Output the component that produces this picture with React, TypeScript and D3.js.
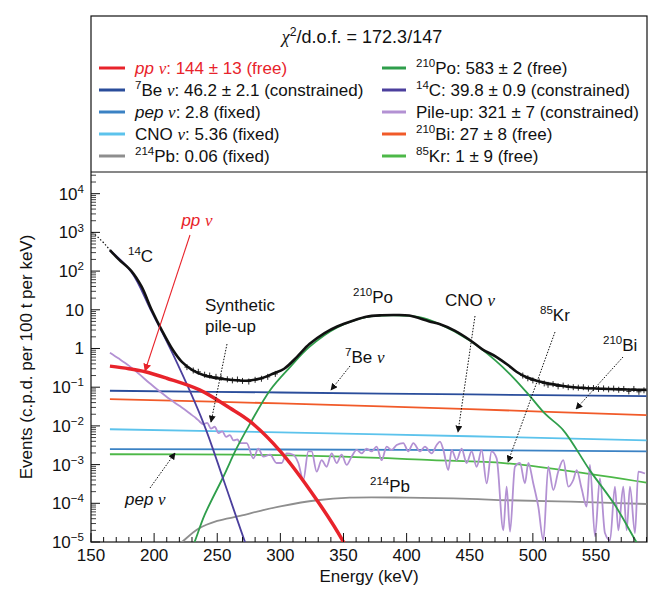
import React from "react";
import * as d3 from "d3";

// ---------------- DATA ----------------
const xTicks = [150, 200, 250, 300, 350, 400, 450, 500, 550];
const yTickExps = [-5, -4, -3, -2, -1, 0, 1, 2, 3, 4];

const legendTitle = "χ^{2}/d.o.f. = 172.3/147";
const legendLeft = [
  { key: "pp", label: "_{pp} ν: 144 ± 13 (free)", color: "#e8232b" },
  { key: "be7", label: "^{7}Be ν: 46.2 ± 2.1 (constrained)", color: "#2a4d9b" },
  { key: "pep", label: "_{pep} ν: 2.8 (fixed)", color: "#3b82c4" },
  { key: "cno", label: "CNO ν: 5.36 (fixed)", color: "#5cc3ec" },
  { key: "pb214", label: "^{214}Pb: 0.06 (fixed)", color: "#8e8e8e" },
];
const legendRight = [
  { key: "po210", label: "^{210}Po: 583 ± 2 (free)", color: "#2f9e4b" },
  { key: "c14", label: "^{14}C: 39.8 ± 0.9 (constrained)", color: "#4b3f9d" },
  { key: "pileup", label: "Pile-up: 321 ± 7 (constrained)", color: "#b391d3" },
  { key: "bi210", label: "^{210}Bi: 27 ± 8 (free)", color: "#f15a29" },
  { key: "kr85", label: "^{85}Kr: 1 ± 9 (free)", color: "#4db848" },
];

// total fit (black)
const totalE = [165, 172, 182, 190, 198, 206, 215, 222, 230, 240, 250, 260, 273, 285, 295, 303, 313, 323, 335, 345, 358, 368, 380, 391, 402, 418, 426, 438, 450, 460, 471, 480, 487, 495, 503, 515, 524, 540, 560, 575, 590];
const totalV = [350, 200, 100, 40, 10, 3, 0.9, 0.45, 0.28, 0.2, 0.17, 0.155, 0.147, 0.17, 0.23, 0.3, 0.6, 1.3, 2.5, 3.7, 5.3, 6.6, 7.2, 7.35, 7.1, 5.0, 4.3, 2.9, 1.66, 0.95, 0.61, 0.38, 0.25, 0.18, 0.147, 0.12, 0.107, 0.095, 0.09, 0.087, 0.085];
// dotted low-energy part
const lowE = [151, 155, 160, 165];
const lowV = [1000, 780, 540, 350];
// data points (crosses)
const dataE = [226, 231, 235, 240, 244, 249, 253, 258, 262, 266, 270, 275, 280, 285, 290, 296, 492, 496, 500, 505, 509, 512, 516, 520, 524, 528, 532, 536, 540, 544, 548, 552, 556, 560, 564, 568, 572, 576, 580, 584, 588];
const dataV = [0.33, 0.27, 0.25, 0.21, 0.2, 0.185, 0.175, 0.16, 0.15, 0.158, 0.145, 0.14, 0.155, 0.165, 0.185, 0.22, 0.2, 0.17, 0.15, 0.14, 0.125, 0.115, 0.12, 0.105, 0.11, 0.1, 0.1, 0.097, 0.1, 0.092, 0.095, 0.09, 0.093, 0.088, 0.092, 0.086, 0.09, 0.078, 0.09, 0.076, 0.083];

const ppE = [165, 180, 193, 210, 236, 260, 276, 300, 329, 350, 356];
const ppV = [0.35, 0.3, 0.25, 0.17, 0.085, 0.029, 0.013, 0.0022, 0.00012, 1e-5, 4e-6];

const c14E = [165, 182, 198, 215, 239, 255, 272, 278];
const c14V = [340, 95, 9, 0.7, 0.012, 4e-4, 1e-5, 3e-6];

const be7E = [165, 300, 450, 590];
const be7V = [0.081, 0.073, 0.065, 0.059];

const bi210E = [165, 300, 450, 590];
const bi210V = [0.049, 0.038, 0.027, 0.019];

const cnoE = [165, 300, 450, 590];
const cnoV = [0.0082, 0.0068, 0.0054, 0.0042];

const pepE = [165, 400, 590];
const pepV = [0.0025, 0.0024, 0.0022];

const kr85E = [165, 268, 350, 420, 479, 590];
const kr85V = [0.00185, 0.0018, 0.0016, 0.0013, 0.00108, 0.00034];

const pb214E = [218, 222, 235, 250, 268, 285, 301, 329, 355, 400, 450, 479, 530, 590];
const pb214V = [8e-6, 1e-5, 2.2e-5, 3.5e-5, 4.7e-5, 6.5e-5, 8.5e-5, 1.2e-4, 1.4e-4, 1.4e-4, 1.3e-4, 1.2e-4, 1.1e-4, 9.6e-5];

const po210E = [228, 232, 240, 255, 265, 275, 292, 308, 323, 345, 368, 390, 410, 426, 450, 470, 485, 498, 510, 524, 545, 565, 582, 588];
const po210V = [5e-6, 1e-5, 5e-5, 5e-4, 0.0025, 0.01, 0.085, 0.34, 1.1, 3.5, 6.5, 7.2, 6.5, 4.3, 1.6, 0.5, 0.17, 0.057, 0.02, 0.0078, 7.2e-4, 9e-5, 1e-5, 5e-6];

const pileE = [165, 172, 180, 188, 196, 204, 212, 220, 226, 230, 233, 236, 239, 242, 245, 248, 251, 254, 257, 260, 263, 266,
  268.0, 273.3, 278.6, 282.5, 286.5, 291.8, 297.0, 301.0, 305.0, 310.2, 314.2, 318.2, 322.1, 324.8, 328.7, 332.7, 336.6, 340.6, 344.6, 348.5, 352.5, 356.4, 360.4, 364.4, 368.3, 372.3, 376.2, 380.2, 384.2, 388.1, 392.1, 397.4, 401.3, 405.3, 410.6, 414.5, 419.8, 423.8, 426.4, 429.1, 433.0, 435.7, 439.6, 443.6, 447.5, 451.5, 455.5, 459.4, 463.4, 467.3, 471.3, 476.6, 479.2, 481.9, 485.8, 489.8, 493.7, 496.4, 500.3, 504.3, 508.3, 512.2, 516.2, 520.1, 524.1, 528.1, 532.0, 534.7, 538.6, 542.6, 545.2, 549.2, 553.1, 557.1, 561.1, 565.0, 567.7, 571.6, 574.3, 576.9, 580.9, 583.5, 588.8];
const pileV = [0.78, 0.55, 0.36, 0.22, 0.13, 0.08, 0.05, 0.033, 0.024, 0.019, 0.016, 0.013, 0.011, 0.012, 0.0085, 0.0095, 0.0065, 0.0072, 0.0052, 0.0058, 0.0042, 0.0045,
  0.0036, 0.0036, 0.00145, 0.0026, 0.0016, 0.0018, 0.0011, 0.0011, 0.00195, 0.0018, 0.0011, 0.0004, 0.0022, 0.0022, 0.00066, 0.0013, 0.00088, 0.00195, 0.0011, 0.0018, 0.00098, 0.0016, 0.0024, 0.00195, 0.0026, 0.0022, 0.0029, 0.0013, 0.0029, 0.0024, 0.0032, 0.0036, 0.0022, 0.0036, 0.0022, 0.0029, 0.00195, 0.0032, 0.0039, 0.0024, 0.00072, 0.0024, 0.0013, 0.0026, 0.0011, 0.0022, 0.00088, 0.0024, 0.00033, 0.0022, 0.00145, 2e-5, 0.00027, 1.85e-5, 0.00088, 0.0011, 0.00033, 0.0011, 0.00033, 8.2e-5, 1.1e-5, 0.00088, 0.00022, 0.00066, 0.0013, 0.00027, 0.0004, 0.00072, 0.00024, 8.2e-5, 0.00098, 1.4e-5, 0.00044, 1.7e-5, 1.1e-5, 0.00027, 2e-5, 0.00027, 2e-5, 0.00027, 1.7e-5, 0.00066, 0.00059];

// ---------------- LAYOUT ----------------
const W = 671, H = 600;
const L = 91, R = 647, T = 172, B = 542, BOX_TOP = 16;
const FONT = "'Liberation Sans', Arial, Helvetica, sans-serif";
const SERIF = "'Liberation Serif', 'DejaVu Serif', serif";

type Seg = { t: string; sup?: boolean; it?: boolean; serif?: boolean };
function parse(s: string): Seg[] {
  const segs: Seg[] = [];
  let buf = "";
  let i = 0;
  const flush = () => { if (buf) { segs.push({ t: buf }); buf = ""; } };
  while (i < s.length) {
    if (s.startsWith("^{", i)) { flush(); const j = s.indexOf("}", i); segs.push({ t: s.slice(i + 2, j), sup: true }); i = j + 1; }
    else if (s.startsWith("_{", i)) { flush(); const j = s.indexOf("}", i); segs.push({ t: s.slice(i + 2, j), it: true }); i = j + 1; }
    else if (s[i] === "ν" || s[i] === "χ") { flush(); segs.push({ t: s[i], serif: true }); i++; }
    else { buf += s[i]; i++; }
  }
  flush();
  return segs;
}

function Rich({ x, y, s, size, fill = "#111", anchor = "start" }: any) {
  const segs = parse(s);
  let shift = 0;
  return (
    <text x={x} y={y} fontSize={size} fill={fill} textAnchor={anchor} fontFamily={FONT} style={{ whiteSpace: "pre" }}>
      {segs.map((g, k) => {
        const target = g.sup ? -size * 0.4 : 0;
        const dy = target - shift;
        shift = target;
        return (
          <tspan key={k} dy={dy !== 0 ? dy : undefined}
            fontSize={g.sup ? size * 0.68 : undefined}
            fontStyle={g.it || g.serif ? "italic" : undefined}
            fontFamily={g.serif ? SERIF : undefined}>
            {g.t}
          </tspan>
        );
      })}
    </text>
  );
}

export default function App() {
  const x = d3.scaleLinear().domain([150, 590.4]).range([L, R]);
  const y = d3.scaleLog().domain([1e-5, Math.pow(10, 4.56)]).range([B, T]);

  const smooth = d3.curveCatmullRom.alpha(0.5);
  const mk = (E: number[], V: number[], curve: any = smooth) =>
    d3.line<number>().x((_, i) => x(E[i])).y((_, i) => y(V[i])).curve(curve)(E) || "";

  const colorOf = (k: string) => [...legendLeft, ...legendRight].find((d) => d.key === k)!.color;

  const series = [
    { k: "pb214", E: pb214E, V: pb214V, w: 1.8, c: smooth },
    { k: "pep", E: pepE, V: pepV, w: 1.8, c: smooth },
    { k: "kr85", E: kr85E, V: kr85V, w: 1.8, c: smooth },
    { k: "cno", E: cnoE, V: cnoV, w: 1.8, c: smooth },
    { k: "bi210", E: bi210E, V: bi210V, w: 1.8, c: smooth },
    { k: "be7", E: be7E, V: be7V, w: 1.8, c: smooth },
    { k: "pileup", E: pileE, V: pileV, w: 1.8, c: d3.curveMonotoneX },
    { k: "po210", E: po210E, V: po210V, w: 1.8, c: smooth },
    { k: "c14", E: c14E, V: c14V, w: 1.8, c: smooth },
    { k: "pp", E: ppE, V: ppV, w: 3.5, c: smooth },
  ];

  const minorX = d3.range(150, 591, 10).filter((v) => v % 50 !== 0);
  const minorY: number[] = [];
  for (let e = -5; e <= 4; e++) for (let m = 2; m <= 9; m++) { const v = m * Math.pow(10, e); if (v <= Math.pow(10, 4.56)) minorY.push(v); }

  const yLabel = (e: number) => (e === 0 ? "1" : e === 1 ? "10" : `10^{${e < 0 ? "−" + -e : e}}`);

  const arrows = [
    { x1: 227, y1: 344, x2: 211, y2: 422 },
    { x1: 350, y1: 366, x2: 331, y2: 390 },
    { x1: 475, y1: 316, x2: 458, y2: 432 },
    { x1: 555, y1: 332, x2: 508, y2: 462 },
    { x1: 623, y1: 357, x2: 576, y2: 409 },
    { x1: 150, y1: 488, x2: 175, y2: 453 },
  ];

  return (
    <svg width={W} height={H} style={{ position: "absolute", left: 0, top: 0, background: "#fff" }} fontFamily={FONT}>
      <defs>
        <clipPath id="plotclip"><rect x={L} y={T} width={R - L} height={B - T} /></clipPath>
        <marker id="ah" viewBox="0 0 10 10" refX="9" refY="5" markerWidth="7" markerHeight="7" markerUnits="userSpaceOnUse" orient="auto">
          <path d="M0,0 L10,5 L0,10 z" fill="#111" />
        </marker>
        <marker id="ahr" viewBox="0 0 10 10" refX="9" refY="5" markerWidth="8" markerHeight="8" markerUnits="userSpaceOnUse" orient="auto">
          <path d="M0,0 L10,5 L0,10 z" fill="#e8232b" />
        </marker>
      </defs>
      <rect x={0} y={0} width={W} height={H} fill="#fff" />

      {/* legend box */}
      <rect x={L} y={BOX_TOP} width={R - L} height={B - BOX_TOP} fill="none" stroke="#111" strokeWidth={1.2} />
      <line x1={L} x2={R} y1={T} y2={T} stroke="#111" strokeWidth={1.2} />
      <Rich x={362} y={43} s={legendTitle} size={18} anchor="middle" />
      {legendLeft.map((d, i) => (
        <g key={d.key}>
          <line x1={99} x2={125} y1={68 + i * 22} y2={68 + i * 22} stroke={d.color} strokeWidth={3} />
          <Rich x={135} y={74 + i * 22} s={d.label} size={17} fill={d.key === "pp" ? "#e8232b" : "#111"} />
        </g>
      ))}
      {legendRight.map((d, i) => (
        <g key={d.key}>
          <line x1={382} x2={406} y1={68 + i * 22} y2={68 + i * 22} stroke={d.color} strokeWidth={3} />
          <Rich x={416} y={74 + i * 22} s={d.label} size={17} />
        </g>
      ))}

      {/* curves */}
      <g clipPath="url(#plotclip)" fill="none">
        {series.map((s) => (
          <path key={s.k} d={mk(s.E, s.V, s.c)} stroke={colorOf(s.k)} strokeWidth={s.w} strokeLinejoin="round" />
        ))}
        <path d={mk(totalE, totalV)} stroke="#111" strokeWidth={2.6} />
        <path d={mk(lowE, lowV, d3.curveLinear)} stroke="#111" strokeWidth={1.2} strokeDasharray="1.5 2" />
        {dataE.map((e, i) => (
          <g key={i} stroke="#111" strokeWidth={0.9}>
            <line x1={x(e) - 2.5} x2={x(e) + 2.5} y1={y(dataV[i])} y2={y(dataV[i])} />
            <line x1={x(e)} x2={x(e)} y1={y(dataV[i]) - 3} y2={y(dataV[i]) + 3} />
          </g>
        ))}
      </g>

      {/* axes ticks */}
      {xTicks.map((t) => (
        <g key={t}>
          <line x1={x(t)} x2={x(t)} y1={B} y2={B - 9} stroke="#111" strokeWidth={1} />
          <text x={x(t)} y={561} fontSize={17} textAnchor="middle" fill="#111">{t}</text>
        </g>
      ))}
      {minorX.map((t) => (
        <line key={t} x1={x(t)} x2={x(t)} y1={B} y2={B - 5} stroke="#111" strokeWidth={1} />
      ))}
      {yTickExps.map((e) => (
        <g key={e}>
          <line x1={L} x2={L + 9} y1={y(Math.pow(10, e))} y2={y(Math.pow(10, e))} stroke="#111" strokeWidth={1} />
          <Rich x={84} y={y(Math.pow(10, e)) + 6} s={yLabel(e)} size={17} anchor="end" />
        </g>
      ))}
      {minorY.map((v, i) => (
        <line key={i} x1={L} x2={L + 5} y1={y(v)} y2={y(v)} stroke="#111" strokeWidth={0.8} />
      ))}

      {/* axis titles */}
      <text x={369} y={582} fontSize={17} textAnchor="middle" fill="#111">Energy (keV)</text>
      <text transform={`translate(32,357) rotate(-90)`} fontSize={17} textAnchor="middle" fill="#111">Events (c.p.d. per 100 t per keV)</text>

      {/* annotations */}
      <Rich x={197} y={226} s="_{pp} ν" size={17} fill="#e8232b" anchor="middle" />
      <line x1={190} y1={235} x2={145} y2={371} stroke="#e8232b" strokeWidth={1.1} markerEnd="url(#ahr)" />
      <Rich x={128} y={262} s="^{14}C" size={17} />
      <text x={205} y={311} fontSize={17} fill="#111">Synthetic</text>
      <text x={205} y={332} fontSize={17} fill="#111">pile-up</text>
      <Rich x={353} y={303} s="^{210}Po" size={17} />
      <Rich x={345} y={363} s="^{7}Be ν" size={17} />
      <Rich x={445} y={306} s="CNO ν" size={17} />
      <Rich x={540} y={321} s="^{85}Kr" size={17} />
      <Rich x={603} y={351} s="^{210}Bi" size={17} />
      <Rich x={125} y={505} s="_{pep} ν" size={17} />
      <Rich x={370} y={492} s="^{214}Pb" size={17} />
      {arrows.map((a, i) => (
        <line key={i} x1={a.x1} y1={a.y1} x2={a.x2} y2={a.y2} stroke="#111" strokeWidth={1} strokeDasharray="1.5 1.5" markerEnd="url(#ah)" />
      ))}
    </svg>
  );
}
